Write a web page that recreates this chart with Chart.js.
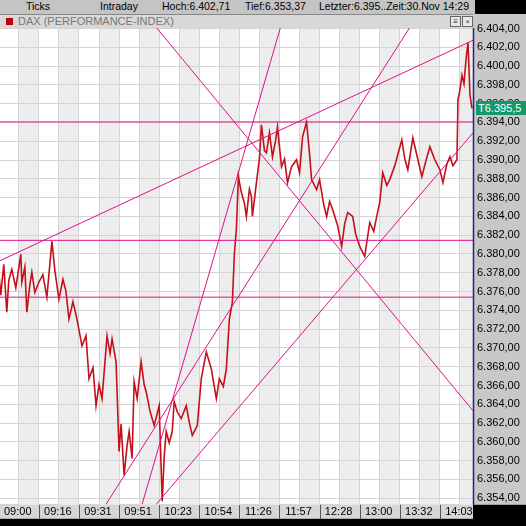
<!DOCTYPE html>
<html>
<head>
<meta charset="utf-8">
<script src="https://cdn.jsdelivr.net/npm/chart.js@4"></script>
<style>
  body { margin:0; width:526px; height:526px; overflow:hidden; background:#000; font-family:"Liberation Sans", Arial, sans-serif; position:relative; }
  #head { position:absolute; left:0; top:0; width:475px; height:14px; background:#c4c4c4; font-size:10.5px; color:#000; white-space:nowrap; }
  #head span { position:absolute; top:0px; }
  #bar { position:absolute; left:0; top:14px; width:473px; height:14px; background:#d8d8d8; border-top:1px solid #888; box-sizing:border-box; font-size:11px; color:#777; }
  #bar .sq { position:absolute; left:6px; top:3px; width:7px; height:7px; background:#c00000; }
  #bar .t { position:absolute; left:18px; top:0px; }
  #bar .ic { position:absolute; top:1px; width:9px; height:9px; border:1px solid #666; background:#e8e8e8; font-size:8px; line-height:9px; text-align:center; color:#333; }
  #wrap { position:absolute; left:-16px; top:0; width:542px; height:526px; }
  #tag { position:absolute; left:476px; top:101px; width:50px; height:14px; background:#129a6c; color:#fff; font-size:11px; line-height:14px; padding-left:2px; box-sizing:border-box; }
</style>
</head>
<body>
<div id="wrap"><canvas id="chart" width="542" height="526"></canvas></div>
<div id="head">
  <span style="left:26px">Ticks</span>
  <span style="left:100px">Intraday</span>
  <span style="left:162px">Hoch:6.402,71</span>
  <span style="left:245px">Tief:6.353,37</span>
  <span style="left:319px">Letzter:6.395..Zeit:30.Nov 14:29</span>
</div>
<div id="bar"><div class="sq"></div><div class="t">DAX (PERFORMANCE-INDEX)</div>
  <div class="ic" style="left:450px">&#8801;</div><div class="ic" style="left:462px">&#215;</div></div>
<div id="tag">T6.395,5</div>
<script>
// tick positions (chart x index) and time labels
var timeTicks = [0,40,80,120,160,200,240,280,320,360,400,440];
var timeLabels = ['09:00','09:16','09:31','09:51','10:23','10:54','11:26','11:57','12:28','13:00','13:32','14:03'];

// DAX intraday ticks
var priceX = [0,2,5,8,10,13,17,22,23,26,28,31,33,36,40,44,48,53,56,60,64,67,70,74,78,83,87,90,94,97,100,103,108,111,113,117,120,122,125,128,130,133,135,138,142,145,147,151,155,158,160,163,165,167,170,173,175,178,182,187,190,193,198,202,207,212,217,220,224,227,230,233,235,237,239,242,245,247,250,252,253,257,260,262,265,267,270,273,276,278,282,285,288,292,297,300,303,307,310,312,317,320,324,327,330,333,338,342,345,348,353,356,360,365,370,374,377,380,383,387,390,395,402,405,408,413,417,422,426,430,435,440,443,447,450,453,457,458,460,462,464,466,468,470,472];
var priceY = [6378.05,6375.6,6378.90,6373.81,6377.2,6378.37,6376.4,6379.96,6376.99,6378.6,6373.81,6376.7,6378.05,6375.9,6376.99,6377.8,6375.40,6381.34,6378.2,6375.19,6377.3,6376.04,6373.07,6374.9,6373.07,6370.21,6371.3,6366.72,6367.9,6363.85,6366.1,6364.60,6371.27,6369.4,6370.95,6368.52,6358.98,6361.9,6356.44,6359.6,6361.10,6358.24,6366.40,6364.60,6368.52,6366.1,6365.34,6363.2,6361.74,6363.0,6363.85,6353.68,6358.4,6361.10,6359.9,6361.10,6364.28,6363.2,6362.48,6363.85,6362.1,6360.68,6361.74,6366.72,6369.58,6367.77,6364.60,6366.72,6365.9,6367.77,6373.07,6374.87,6380.0,6382.61,6388.23,6386.53,6385.4,6383.99,6386.9,6386.11,6383.99,6387.59,6390.2,6393.74,6391.0,6390.77,6392.89,6390.34,6392.0,6393.52,6389.28,6390.1,6387.59,6389.28,6390.03,6388.65,6392.46,6394.05,6390.6,6387.91,6386.85,6387.9,6385.3,6383.99,6385.6,6384.73,6383.0,6380.81,6383.2,6384.41,6383.99,6382.1,6380.81,6379.75,6383.35,6382.4,6383.99,6385.5,6388.65,6387.3,6387.91,6389.4,6392.15,6390.1,6388.97,6392.36,6390.5,6388.23,6389.9,6391.40,6390.0,6388.97,6387.59,6389.6,6390.34,6389.4,6390.03,6396.38,6397.5,6399.03,6398.1,6400.62,6402.53,6396.91,6395.50];

// drawn trend lines: [x1, y1, x2, y2]
var trendLines = [
  [0, 6394.05, 473, 6394.05],
  [0, 6381.45, 473, 6381.45],
  [0, 6375.40, 473, 6375.40],
  [0, 6379.22, 473, 6402.74],
  [157, 6404.12, 473, 6363.32],
  [281, 6404.12, 143, 6353.36],
  [410, 6404.12, 107, 6353.36],
  [157, 6353.36, 473, 6392.89]
];

var priceData = [];
for (var i = 0; i < priceX.length; i++) priceData.push({x: priceX[i], y: priceY[i]});

var datasets = [];
for (var k = 0; k < trendLines.length; k++) {
  var t = trendLines[k];
  datasets.push({
    data: [{x: t[0], y: t[1]}, {x: t[2], y: t[3]}],
    borderColor: '#e0108a', borderWidth: 1, pointRadius: 0, tension: 0
  });
}
datasets.push({
  data: priceData, borderColor: '#c4101a', borderWidth: 1.6, pointRadius: 0, tension: 0
});

var bgPlugin = {
  id: 'bg',
  beforeDraw: function(chart) {
    var c = chart.ctx, a = chart.chartArea, xs = chart.scales.x;
    c.save();
    c.fillStyle = '#000'; c.fillRect(0, 0, chart.width, chart.height);
    c.fillStyle = '#c8c8c8'; c.fillRect(a.right, 14, chart.width - a.right, a.bottom - 14);
    c.fillStyle = '#d6d6d6'; c.fillRect(a.left, a.bottom, a.right - a.left, 14);
    c.fillStyle = '#ffffff'; c.fillRect(a.left, a.top, a.right - a.left, a.bottom - a.top);
    c.fillStyle = '#ededed';
    for (var v = 20; v < 473; v += 40) {
      var p1 = xs.getPixelForValue(v), p2 = xs.getPixelForValue(v + 20);
      c.fillRect(p1, a.top, Math.min(p2, a.right) - p1, a.bottom - a.top);
    }
    c.strokeStyle = '#555'; c.lineWidth = 1;
    for (var j = 0; j < timeTicks.length; j++) {
      var px = Math.round(xs.getPixelForValue(timeTicks[j])) + 0.5;
      c.beginPath(); c.moveTo(px, a.bottom); c.lineTo(px, a.bottom + 14); c.stroke();
    }
    c.restore();
  },
  afterDraw: function(chart) {
    var c = chart.ctx, a = chart.chartArea;
    c.save();
    c.strokeStyle = '#22228a'; c.lineWidth = 1.5;
    c.beginPath(); c.moveTo(a.right + 0.5, 28); c.lineTo(a.right + 0.5, a.bottom); c.stroke();
    c.restore();
  }
};

new Chart(document.getElementById('chart'), {
  type: 'line',
  data: { datasets: datasets },
  plugins: [bgPlugin],
  options: {
    responsive: false, animation: false,
    layout: { padding: { top: 28, left: 0, right: 0, bottom: 6 } },
    plugins: { legend: { display: false }, tooltip: { enabled: false } },
    scales: {
      x: {
        type: 'linear', min: 0, max: 473,
        afterBuildTicks: function(s) {
          var arr = [];
          for (var v = 0; v <= 460; v += 20) arr.push({value: v});
          s.ticks = arr;
        },
        grid: { color: '#d4d4d4', drawTicks: false },
        border: { display: false },
        ticks: {
          color: '#000', font: { family: 'Liberation Sans', size: 11 },
          maxRotation: 0, autoSkip: false, padding: 1, labelOffset: 19,
          callback: function(v) { var n = timeTicks.indexOf(v); return n < 0 ? '' : timeLabels[n]; }
        }
      },
      y: {
        position: 'right', min: 6353.3, max: 6404.05,
        afterFit: function(s) { s.width = 53; },
        afterBuildTicks: function(s) {
          var arr = [];
          for (var v = 6354; v <= 6404; v += 2) arr.push({value: v});
          s.ticks = arr;
        },
        grid: { color: '#d4d4d4', drawTicks: false },
        border: { display: false },
        ticks: {
          color: '#000', font: { family: 'Liberation Sans', size: 11 }, padding: 4,
          callback: function(v) { return '6.' + String(v - 6000) + ',00'; }
        }
      }
    }
  }
});
</script>
</body>
</html>
